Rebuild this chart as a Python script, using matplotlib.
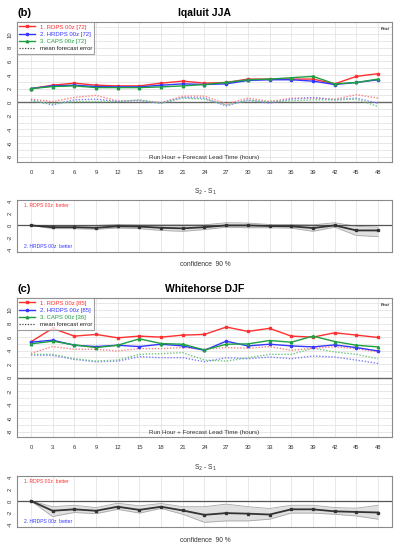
import matplotlib
matplotlib.use("Agg")
import matplotlib.pyplot as plt
import numpy as np

plt.rcParams['font.family'] = ['Liberation Sans', 'DejaVu Sans']
plt.rcParams['axes.unicode_minus'] = False

hours = [0, 3, 6, 9, 12, 15, 18, 21, 24, 27, 30, 33, 36, 39, 42, 45, 48]

# ---- (b) Iqaluit JJA ----
b_rdps = [2.0, 2.5, 2.8, 2.5, 2.4, 2.4, 2.8, 3.1, 2.8, 2.9, 3.4, 3.4, 3.4, 3.4, 2.7, 3.8, 4.2]
b_hrdps = [2.0, 2.4, 2.5, 2.3, 2.25, 2.25, 2.5, 2.7, 2.6, 2.7, 3.2, 3.3, 3.3, 3.1, 2.6, 2.9, 3.3]
b_caps = [2.0, 2.3, 2.4, 2.15, 2.15, 2.15, 2.25, 2.4, 2.6, 2.9, 3.3, 3.4, 3.6, 3.8, 2.7, 2.9, 3.4]
b_rdps_me = [0.45, 0.1, 0.7, 1.0, 0.2, 0.25, -0.05, 0.9, 0.9, -0.25, 0.6, 0.1, 0.6, 0.6, 0.45, 1.1, 0.6]
b_hrdps_me = [0.35, -0.4, 0.35, 0.45, 0.1, 0.25, -0.15, 0.7, 0.6, -0.55, 0.35, -0.15, 0.45, 0.7, 0.35, 0.6, -0.15]
b_caps_me = [0.2, -0.25, 0.1, 0.1, 0.1, 0.35, -0.15, 0.6, 0.45, -0.4, 0.2, 0.1, 0.2, 0.35, 0.35, 0.45, -0.65]
b_diff = [0, -0.3, -0.3, -0.4, -0.15, -0.2, -0.4, -0.5, -0.3, 0, 0, -0.1, -0.15, -0.45, 0, -0.85, -0.85]
b_diff_hi = [0, 0, 0, 0, 0.15, 0.1, 0.1, 0.1, 0.1, 0.45, 0.4, 0.15, 0.15, 0.1, 0.45, -0.15, -0.3]
b_diff_lo = [0, -0.55, -0.55, -0.65, -0.45, -0.55, -0.85, -1.0, -0.7, -0.3, -0.4, -0.4, -0.45, -1.0, -0.3, -1.7, -1.9]
b_labels = ['1. RDPS 00z [72]', '2. HRDPS 00z [72]', '3. CAPS 00z [72]', 'mean forecast error']

# ---- (c) Whitehorse DJF ----
c_rdps = [5.3, 7.3, 6.15, 6.4, 5.9, 6.15, 6.0, 6.3, 6.4, 7.5, 6.85, 7.3, 6.15, 6.0, 6.65, 6.3, 5.95]
c_hrdps = [5.25, 5.55, 4.8, 4.6, 4.8, 4.6, 4.95, 4.7, 4.05, 5.4, 4.7, 4.95, 4.7, 4.55, 4.85, 4.45, 3.95]
c_caps = [5.0, 5.4, 4.85, 4.45, 4.8, 5.75, 5.05, 4.95, 4.1, 4.95, 5.0, 5.5, 5.25, 6.15, 5.35, 4.8, 4.55]
c_rdps_me = [3.6, 4.6, 4.2, 4.2, 3.95, 4.3, 4.3, 4.45, 4.2, 4.45, 4.35, 4.6, 4.05, 4.35, 4.55, 4.3, 3.8]
c_hrdps_me = [3.35, 3.3, 2.7, 2.35, 2.45, 3.1, 2.95, 2.95, 2.35, 2.95, 2.8, 3.05, 2.8, 3.2, 3.05, 2.6, 2.1]
c_caps_me = [3.45, 3.45, 2.8, 2.45, 2.6, 3.45, 3.55, 3.7, 2.6, 2.45, 2.95, 3.45, 3.45, 4.35, 3.8, 3.45, 2.8]
c_diff = [0, -1.7, -1.45, -1.7, -1.0, -1.55, -1.0, -1.65, -2.4, -2.1, -2.2, -2.35, -1.45, -1.45, -1.8, -1.9, -2.0]
c_diff_hi = [0, -1.0, -0.75, -1.15, -0.4, -0.85, -0.45, -1.0, -1.0, -0.55, -1.0, -1.3, -0.75, -0.75, -1.15, -1.25, -0.75]
c_diff_lo = [0, -2.7, -2.0, -2.2, -1.45, -2.1, -1.3, -2.3, -3.7, -3.45, -3.45, -3.15, -2.1, -2.1, -2.3, -2.6, -3.15]
c_labels = ['1. RDPS 00z [85]', '2. HRDPS 00z [85]', '3. CAPS 00z [36]', 'mean forecast error']

RED = '#ff3030'
BLUE = '#3535ff'
GREEN = '#1fa040'
RED_L = '#ff8080'
BLUE_L = '#8080ff'
GREEN_L = '#6fc67f'

W, H = 399, 550
fig = plt.figure(figsize=(W / 100, H / 100), dpi=100)

def fy(px):
    return 1 - px / H

def fx(px):
    return px / W

def axpos(top, bottom, left=17, right=392):
    return [fx(left), fy(bottom), fx(right) - fx(left), fy(top) - fy(bottom)]

def style_axes(ax, ylim, yticks):
    ax.set_xlim(-1.92, 49.92)
    ax.set_ylim(*ylim)
    ax.set_xticks(hours)
    ax.set_yticks(yticks)
    ax.set_yticklabels([str(v) for v in yticks], rotation=90, va='center')
    ax.tick_params(axis='both', length=0, labelsize=4.2, colors='#333333')
    ax.tick_params(axis='y', pad=3)
    ax.tick_params(axis='x', pad=6)
    for s in ax.spines.values():
        s.set_color('#8a8a8a')
        s.set_linewidth(0.8)

def upper_panel(top, bottom, rdps, hrdps, caps, rme, hme, cme, labels, letter, title):
    ax = fig.add_axes(axpos(top, bottom))
    style_axes(ax, (-8.8, 11.8), [-8, -6, -4, -2, 0, 2, 4, 6, 8, 10])
    for yv in range(-8, 12):
        ax.axhline(yv, color='#e4e4e4', lw=0.6, zorder=0)
    for xv in hours:
        ax.axvline(xv, color='#e4e4e4', lw=0.6, zorder=0)
    ax.axhline(0, color='#666666', lw=1.0, zorder=1)
    ax.plot(hours, rme, color=RED_L, lw=1.0, ls=(0, (1, 1.2)), zorder=2)
    ax.plot(hours, hme, color=BLUE_L, lw=1.0, ls=(0, (1, 1.2)), zorder=2)
    ax.plot(hours, cme, color=GREEN_L, lw=1.0, ls=(0, (1, 1.2)), zorder=2)
    l1, = ax.plot(hours, rdps, color=RED, lw=1.0, marker='s', ms=1.6, zorder=3)
    l2, = ax.plot(hours, hrdps, color=BLUE, lw=1.0, marker='o', ms=1.6, zorder=3)
    l3, = ax.plot(hours, caps, color=GREEN, lw=1.0, marker='^', ms=1.8, zorder=3)
    l4, = ax.plot([], [], color='#444444', lw=0.9, ls=(0, (1, 1.2)))
    ax.set_xticklabels([str(h) for h in hours])
    leg = ax.legend([l1, l2, l3, l4], labels, loc='upper left', fontsize=4.3,
                    labelcolor=[RED, BLUE, GREEN, '#222222'], frameon=True,
                    fancybox=False, edgecolor='#8a8a8a', borderaxespad=0,
                    handlelength=2.6, handletextpad=0.8, labelspacing=0.35,
                    borderpad=0.4)
    leg.get_frame().set_linewidth(0.8)
    ax.text(0.993, 0.965, 'Fcst', transform=ax.transAxes, ha='right', va='top',
            fontsize=3.2, fontweight='bold', style='italic', color='#222222')
    ax.text(0.5, 0.012, 'Run Hour + Forecast Lead Time (hours)', transform=ax.transAxes,
            ha='center', va='bottom', fontsize=4.5, color='#333333')
    fig.text(fx(17), fy(top - 9), letter, ha='left', va='center', fontsize=8, fontweight='bold')
    fig.text(fx(205), fy(top - 9), title, ha='center', va='center', fontsize=7.5, fontweight='bold')
    return ax

def lower_panel(top, bottom, diff, hi, lo):
    ax = fig.add_axes(axpos(top, bottom))
    style_axes(ax, (-4.5, 4.3), [-4, -2, 0, 2, 4])
    ax.set_xticklabels([])
    for xv in hours:
        ax.axvline(xv, color='#e4e4e4', lw=0.6, zorder=0)
    ax.fill_between(hours, lo, hi, color='#e0e0e0', zorder=1, lw=0)
    ax.plot(hours, hi, color='#a8a8a8', lw=0.6, zorder=2)
    ax.plot(hours, lo, color='#a8a8a8', lw=0.6, zorder=2)
    ax.axhline(0, color='#555555', lw=0.9, zorder=2)
    ax.plot(hours, diff, color='#333333', lw=1.3, marker='s', ms=1.6, zorder=3)
    ax.text(0.02, 0.9, '1. RDPS 00z  better', transform=ax.transAxes, ha='left', va='center',
            fontsize=3.6, color=RED)
    ax.text(0.02, 0.1, '2. HRDPS 00z  better', transform=ax.transAxes, ha='left', va='center',
            fontsize=3.6, color=BLUE)
    fig.text(fx(205), fy(top - 8), 'S$_2$ - S$_1$', ha='center', va='center', fontsize=4.8,
             color='#333333')
    fig.text(fx(205), fy(bottom + 13), 'confidence  90 %', ha='center', va='center',
             fontsize=4.8, color='#333333')
    return ax

upper_panel(22, 162, b_rdps, b_hrdps, b_caps, b_rdps_me, b_hrdps_me, b_caps_me, b_labels,
            '(b)', 'Iqaluit JJA')
lower_panel(200, 252, b_diff, b_diff_hi, b_diff_lo)
upper_panel(298, 437, c_rdps, c_hrdps, c_caps, c_rdps_me, c_hrdps_me, c_caps_me, c_labels,
            '(c)', 'Whitehorse DJF')
lower_panel(476, 527, c_diff, c_diff_hi, c_diff_lo)

fig.savefig('out.png', dpi=100)
